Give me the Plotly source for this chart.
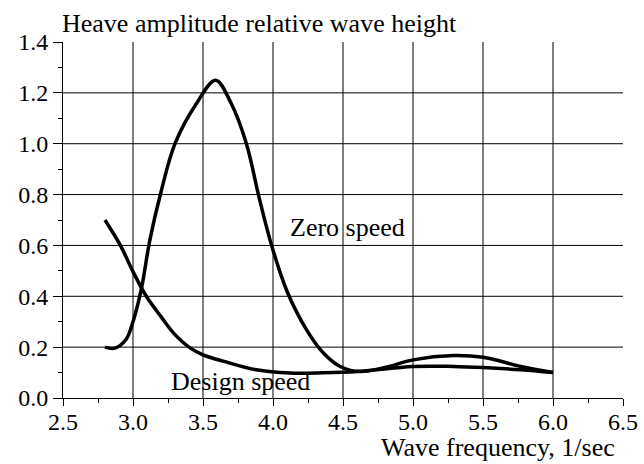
import plotly.graph_objects as go

# Data
zero_x = [2.8, 2.87, 2.95, 3.0, 3.06, 3.12, 3.2, 3.3, 3.45, 3.59, 3.7, 3.81, 3.9, 3.99,
          4.1, 4.24, 4.36, 4.48, 4.62, 4.8, 5.0, 5.29, 5.5, 5.77, 6.0]
zero_y = [0.2, 0.196, 0.23, 0.30, 0.43, 0.62, 0.81, 1.0, 1.155, 1.25, 1.16, 1.0, 0.79, 0.6,
          0.42, 0.268, 0.177, 0.124, 0.104, 0.12, 0.15, 0.167, 0.16, 0.124, 0.1]

design_x = [2.8, 2.91, 3.0, 3.095, 3.2, 3.29, 3.41, 3.5, 3.65, 3.88, 4.12, 4.36, 4.6,
            5.0, 5.29, 5.5, 5.77, 6.0]
design_y = [0.70, 0.6, 0.497, 0.4, 0.32, 0.255, 0.196, 0.17, 0.144, 0.111, 0.098,
            0.099, 0.104, 0.124, 0.124, 0.12, 0.111, 0.1]

x_grid = [3.0, 3.5, 4.0, 4.5, 5.0, 5.5, 6.0]
y_grid = [0.2, 0.4, 0.6, 0.8, 1.0, 1.2]

FONT = "Liberation Serif, Times New Roman, Times, serif"
TXT = 26
TICK = 24

fig = go.Figure()
fig.add_trace(go.Scatter(x=zero_x, y=zero_y, mode="lines",
                         line=dict(color="black", width=3.5, shape="spline", smoothing=1.0),
                         name="Zero speed"))
fig.add_trace(go.Scatter(x=design_x, y=design_y, mode="lines",
                         line=dict(color="black", width=3.5, shape="spline", smoothing=1.0),
                         name="Design speed"))

shapes = []
for gx in x_grid:
    shapes.append(dict(type="line", xref="x", yref="y", x0=gx, x1=gx, y0=0, y1=1.4,
                       line=dict(color="black", width=1), layer="below"))
for gy in y_grid:
    shapes.append(dict(type="line", xref="x", yref="y", x0=2.5, x1=6.5, y0=gy, y1=gy,
                       line=dict(color="black", width=1), layer="below"))

fig.update_layout(
    width=644, height=464,
    margin=dict(l=63, r=21, t=42, b=66, autoexpand=False),
    paper_bgcolor="white", plot_bgcolor="white",
    showlegend=False,
    font=dict(family=FONT, color="black", size=TICK),
    shapes=shapes,
    xaxis=dict(range=[2.5, 6.5], dtick=0.5, tick0=2.5, tickformat=".1f", automargin=False,
               showgrid=False, zeroline=False, showline=True, linecolor="black", linewidth=1,
               ticks="outside", ticklen=7, tickwidth=1, tickcolor="black",
               ticklabelstandoff=-5,
               tickfont=dict(family=FONT, size=TICK, color="black"),
               minor=dict(dtick=0.25, tick0=2.5, ticks="outside", ticklen=4, tickcolor="black",
                          showgrid=False)),
    yaxis=dict(range=[0, 1.4], dtick=0.2, tick0=0, tickformat=".1f", automargin=False,
               showgrid=False, zeroline=False, showline=True, linecolor="black", linewidth=1,
               ticks="outside", ticklen=9, tickwidth=1, tickcolor="black",
               tickfont=dict(family=FONT, size=TICK, color="black"),
               minor=dict(dtick=0.1, tick0=0, ticks="outside", ticklen=4, tickcolor="black",
                          showgrid=False)),
    annotations=[
        dict(text="Heave amplitude relative wave height", xref="paper", yref="paper",
             x=0, y=1.0506, xanchor="left", yanchor="middle", showarrow=False, xshift=-3,
             font=dict(family=FONT, size=TXT, color="black")),
        dict(text="Wave frequency, 1/sec", xref="paper", yref="paper",
             x=0.989, y=-0.1404, xanchor="right", yanchor="middle", showarrow=False,
             font=dict(family=FONT, size=TXT, color="black")),
        dict(text="Zero speed", xref="x", yref="y", x=4.53, y=0.67,
             xanchor="center", yanchor="middle", showarrow=False,
             font=dict(family=FONT, size=TXT, color="black")),
        dict(text="Design speed", xref="x", yref="y", x=3.77, y=0.064,
             xanchor="center", yanchor="middle", showarrow=False,
             font=dict(family=FONT, size=TXT, color="black")),
    ],
)

fig.write_html("out.html", config={"displayModeBar": False},
               post_script="document.body.style.margin='0';")
